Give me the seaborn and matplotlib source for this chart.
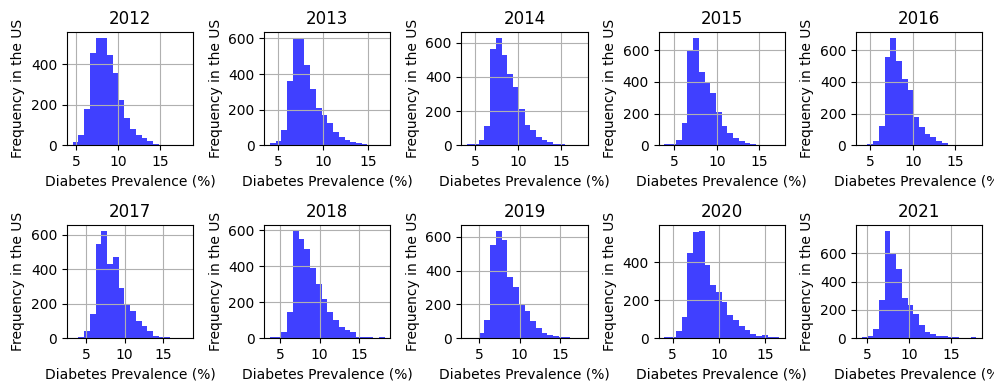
import numpy as np
import pandas as pd
import matplotlib
matplotlib.use("Agg")
import matplotlib.pyplot as plt
import seaborn as sns

# County-level diabetes prevalence: 20 equal-width bins per year between the
# lowest and highest observed prevalence, with the number of counties per bin.
years = [2012, 2013, 2014, 2015, 2016, 2017, 2018, 2019, 2020, 2021]

range_2012 = (4.60, 18.20)
range_2013 = (4.05, 16.88)
range_2014 = (4.05, 17.45)
range_2015 = (3.81, 17.33)
range_2016 = (3.98, 17.47)
range_2017 = (3.30, 18.14)
range_2018 = (3.73, 18.23)
range_2019 = (3.51, 17.69)
range_2020 = (4.12, 16.52)
range_2021 = (4.37, 17.97)

counts_2012 = [17, 50, 180, 455, 530, 532, 447, 355, 222, 135, 80, 52, 35, 20, 8, 3, 1, 0, 0, 1]
counts_2013 = [10, 25, 85, 362, 605, 603, 451, 314, 211, 171, 124, 72, 48, 29, 17, 10, 4, 2, 1, 1]
counts_2014 = [4, 4, 30, 115, 565, 630, 525, 418, 339, 214, 121, 89, 45, 30, 16, 8, 4, 2, 1, 1]
counts_2015 = [6, 6, 32, 143, 600, 680, 460, 395, 331, 209, 124, 75, 47, 24, 13, 6, 3, 2, 1, 1]
counts_2016 = [2, 6, 28, 124, 558, 680, 534, 417, 348, 177, 113, 70, 53, 28, 11, 4, 2, 1, 1, 1]
counts_2017 = [1, 4, 43, 139, 544, 623, 427, 472, 292, 195, 160, 100, 70, 42, 12, 8, 6, 2, 0, 1]
counts_2018 = [4, 4, 34, 145, 598, 550, 495, 388, 302, 218, 145, 100, 62, 45, 35, 8, 7, 5, 0, 6]
counts_2019 = [4, 4, 30, 108, 551, 636, 581, 364, 301, 201, 163, 104, 59, 30, 16, 10, 8, 6, 1, 1]
counts_2020 = [4, 4, 39, 110, 448, 560, 566, 386, 279, 244, 190, 124, 94, 66, 41, 23, 9, 16, 7, 7]
counts_2021 = [5, 14, 64, 270, 760, 600, 490, 282, 235, 172, 94, 42, 31, 16, 12, 9, 5, 1, 0, 8]

ranges = [range_2012, range_2013, range_2014, range_2015, range_2016,
          range_2017, range_2018, range_2019, range_2020, range_2021]
counts = [counts_2012, counts_2013, counts_2014, counts_2015, counts_2016,
          counts_2017, counts_2018, counts_2019, counts_2020, counts_2021]

fig, axes = plt.subplots(2, 5, figsize=(9.94, 3.83), dpi=100)
fig.subplots_adjust(left=0.0674, right=0.988, top=0.916, bottom=0.117,
                    wspace=0.563, hspace=0.708)

for ax, year, (lo, hi), cnt in zip(axes.flat, years, ranges, counts):
    edges = np.linspace(lo, hi, len(cnt) + 1).tolist()
    centers = [(a + b) / 2 for a, b in zip(edges[:-1], edges[1:])]
    df = pd.DataFrame({"prevalence": centers, "n": cnt})
    sns.histplot(data=df, x="prevalence", weights="n", bins=edges,
                 color="blue", alpha=0.75, linewidth=0, ax=ax)
    span = hi - lo
    ax.set_xlim(lo - 0.05 * span, hi + 0.05 * span)
    ax.set_ylim(0, max(cnt) * 1.05)
    ax.grid(True, color="#b0b0b0", linewidth=0.8)
    ax.set_title(str(year), fontsize=12)
    ax.set_xlabel("Diabetes Prevalence (%)", fontsize=10)
    ax.set_ylabel("Frequency in the US", fontsize=10)
    ax.tick_params(labelsize=10)

fig.savefig("out.png", dpi=100)
